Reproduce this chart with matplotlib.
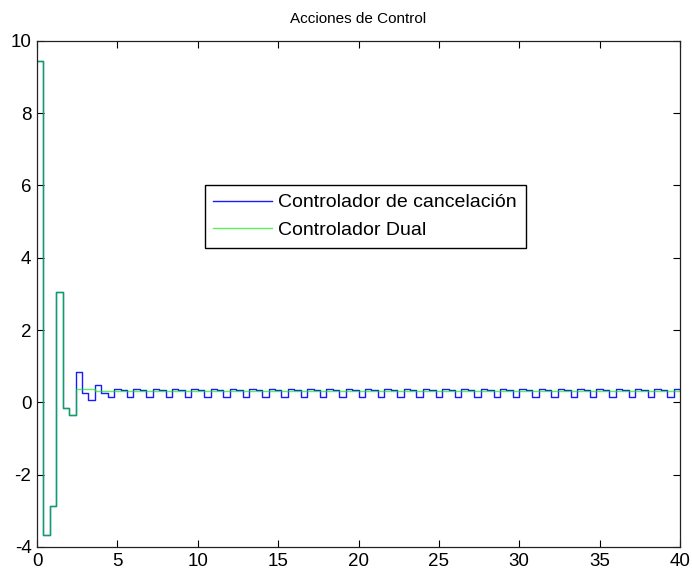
import numpy as np
import matplotlib
matplotlib.use('Agg')
import matplotlib.pyplot as plt

plt.rcParams['font.family'] = ['Liberation Sans', 'DejaVu Sans']
plt.rcParams['axes.unicode_minus'] = False

# sample instants (Ts = 0.4 s)
t = np.arange(0, 101) * 0.4

# control action of the cancellation controller
u_cancel = [9.45, -3.68, -2.86, 3.05, -0.16, -0.36, 0.85, 0.27, 0.06, 0.47,
            0.27, 0.15, 0.38, 0.33, 0.15, 0.38, 0.33, 0.15, 0.38, 0.33,
            0.15, 0.38, 0.33, 0.15, 0.38, 0.33, 0.15, 0.38, 0.33, 0.15,
            0.38, 0.33, 0.15, 0.38, 0.33, 0.15, 0.38, 0.33, 0.15, 0.38,
            0.33, 0.15, 0.38, 0.33, 0.15, 0.38, 0.33, 0.15, 0.38, 0.33,
            0.15, 0.38, 0.33, 0.15, 0.38, 0.33, 0.15, 0.38, 0.33, 0.15,
            0.38, 0.33, 0.15, 0.38, 0.33, 0.15, 0.38, 0.33, 0.15, 0.38,
            0.33, 0.15, 0.38, 0.33, 0.15, 0.38, 0.33, 0.15, 0.38, 0.33,
            0.15, 0.38, 0.33, 0.15, 0.38, 0.33, 0.15, 0.38, 0.33, 0.15,
            0.38, 0.33, 0.15, 0.38, 0.33, 0.15, 0.38, 0.33, 0.15, 0.38,
            0.33]

# control action of the dual controller
u_dual = [9.45, -3.68, -2.86, 3.05, -0.16, -0.36, 0.38, 0.38, 0.38, 0.31,
          0.31, 0.31, 0.31, 0.31, 0.31, 0.31, 0.31, 0.31, 0.31, 0.31,
          0.31, 0.31, 0.31, 0.31, 0.31, 0.31, 0.31, 0.31, 0.31, 0.31,
          0.31, 0.31, 0.31, 0.31, 0.31, 0.31, 0.31, 0.31, 0.31, 0.31,
          0.31, 0.31, 0.31, 0.31, 0.31, 0.31, 0.31, 0.31, 0.31, 0.31,
          0.31, 0.31, 0.31, 0.31, 0.31, 0.31, 0.31, 0.31, 0.31, 0.31,
          0.31, 0.31, 0.31, 0.31, 0.31, 0.31, 0.31, 0.31, 0.31, 0.31,
          0.31, 0.31, 0.31, 0.31, 0.31, 0.31, 0.31, 0.31, 0.31, 0.31,
          0.31, 0.31, 0.31, 0.31, 0.31, 0.31, 0.31, 0.31, 0.31, 0.31,
          0.31, 0.31, 0.31, 0.31, 0.31, 0.31, 0.31, 0.31, 0.31, 0.31,
          0.31]

labels = ['Controlador de cancelación', 'Controlador Dual']
xticks = np.arange(0, 41, 5)
yticks = np.arange(-4, 11, 2)

fig = plt.figure(figsize=(6.92, 5.75), dpi=100)
ax = fig.add_axes([0.0535, 0.0487, 0.9292, 0.8803])

ax.step(t, u_cancel, where='post', color='#1a1aff', lw=1.0, label=labels[0])
ax.step(t, u_dual, where='post', color='#00ee00', lw=1.0, alpha=0.65, label=labels[1])

ax.set_xlim(0, 40)
ax.set_ylim(-4, 10)
ax.set_xticks(xticks)
ax.set_yticks(yticks)
ax.tick_params(direction='in', top=True, right=True, length=5, width=0.8,
               labelsize=13.5, pad=4)
for s in ax.spines.values():
    s.set_linewidth(0.9)
    s.set_color('#222222')

ax.set_title('Acciones de Control', fontsize=11, pad=13)

leg = ax.legend(loc='upper left', bbox_to_anchor=(0.2605, 0.715),
                fontsize=14, frameon=True, fancybox=False, framealpha=1,
                edgecolor='black', handlelength=3.0, handletextpad=0.35,
                labelspacing=0.5, borderpad=0.45, borderaxespad=0)
leg.get_frame().set_linewidth(1.0)

fig.savefig('out.png', dpi=100)
